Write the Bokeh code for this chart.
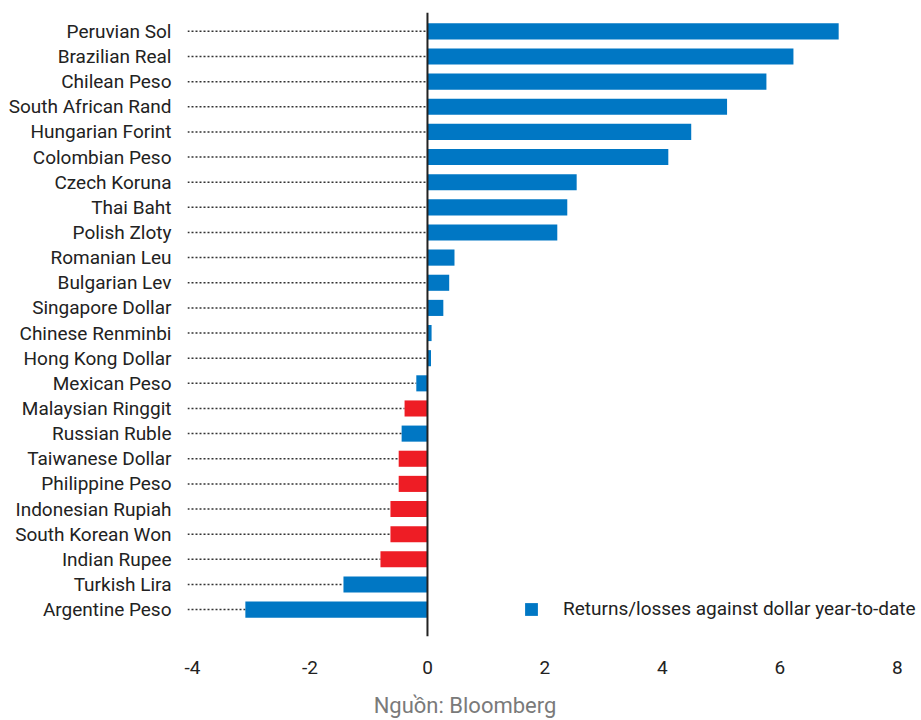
from bokeh.plotting import figure
from bokeh.models import Range1d, Span, Legend, LegendItem, ColumnDataSource, FixedTicker, Div
from bokeh.layouts import column
from bokeh.embed import file_html
from bokeh.resources import INLINE

currencies = ["Peruvian Sol", "Brazilian Real", "Chilean Peso", "South African Rand",
              "Hungarian Forint", "Colombian Peso", "Czech Koruna", "Thai Baht",
              "Polish Zloty", "Romanian Leu", "Bulgarian Lev", "Singapore Dollar",
              "Chinese Renminbi", "Hong Kong Dollar", "Mexican Peso", "Malaysian Ringgit",
              "Russian Ruble", "Taiwanese Dollar", "Philippine Peso", "Indonesian Rupiah",
              "South Korean Won", "Indian Rupee", "Turkish Lira", "Argentine Peso"]
returns = [7.0, 6.23, 5.77, 5.1, 4.49, 4.1, 2.54, 2.38, 2.21, 0.46, 0.37, 0.27,
           0.07, 0.06, -0.19, -0.39, -0.44, -0.49, -0.49, -0.63, -0.63, -0.8, -1.43, -3.1]
asian_highlight = ["Malaysian Ringgit", "Taiwanese Dollar", "Philippine Peso",
                   "Indonesian Rupiah", "South Korean Won", "Indian Rupee"]
x_ticks = [-4, -2, 0, 2, 4, 6, 8]
x_tick_labels = ["-4", "-2", "0", "2", "4", "6", "8"]
legend_label = "Returns/losses against dollar year-to-date"
source_note = "Nguồn: Bloomberg"

BLUE = "#0077c4"
RED = "#ee1d25"
FONT = "Roboto"
FS = "19px"

n = len(currencies)
ypos = list(range(n))
x_start = -4.085
x_end = 8.41

blue = dict(y=[], v=[])
red = dict(y=[], v=[])
for i, (c, v) in enumerate(zip(currencies, returns)):
    d = red if c in asian_highlight else blue
    d["y"].append(i)
    d["v"].append(v)

dots = dict(y=ypos, x0=[x_start] * n, x1=[min(0, v) for v in returns])

p = figure(width=921, height=688, output_backend="svg", toolbar_location=None,
           x_range=Range1d(x_start, x_end), y_range=Range1d(n - 1 + 1.07, -0.75),
           min_border_left=187, min_border_right=0, min_border_top=12, min_border_bottom=52)
p.outline_line_color = None
p.grid.visible = False
p.background_fill_color = "white"

p.segment(x0="x0", y0="y", x1="x1", y1="y", source=ColumnDataSource(dots),
          line_color="#333333", line_width=1.5, line_dash="2 2")

rb = p.hbar(y="y", right="v", left=0, height=0.64, source=ColumnDataSource(blue),
            fill_color=BLUE, line_color=None)
rr = p.hbar(y="y", right="v", left=0, height=0.64, source=ColumnDataSource(red),
            fill_color=RED, line_color=None)

p.add_layout(Span(location=0, dimension="height", line_color="#222222", line_width=2))

yaxis = p.yaxis[0]
yaxis.ticker = FixedTicker(ticks=ypos)
yaxis.major_label_overrides = {i: c for i, c in enumerate(currencies)}
yaxis.axis_line_color = None
yaxis.major_tick_line_color = None
yaxis.minor_tick_line_color = None
yaxis.major_tick_out = 0
yaxis.major_label_standoff = 16
yaxis.major_label_text_font = FONT
yaxis.major_label_text_font_size = FS
yaxis.major_label_text_color = "#222222"

xaxis = p.xaxis[0]
xaxis.ticker = FixedTicker(ticks=x_ticks)
xaxis.major_label_overrides = {t: s for t, s in zip(x_ticks, x_tick_labels)}
xaxis.axis_line_color = None
xaxis.major_tick_line_color = None
xaxis.minor_tick_line_color = None
xaxis.major_tick_out = 0
xaxis.major_label_standoff = 24
xaxis.major_label_text_font = FONT
xaxis.major_label_text_font_size = FS
xaxis.major_label_text_color = "#222222"

legend = Legend(items=[LegendItem(label=legend_label, renderers=[rb])],
                location=(336, 16), glyph_width=16, glyph_height=16, label_standoff=24,
                label_text_font=FONT, label_text_font_size=FS, label_text_color="#222222",
                background_fill_alpha=0, border_line_color=None, padding=2, margin=0)
p.add_layout(legend)

note = Div(text=source_note, width=921, height=32, margin=(0, 0, 0, 0),
           styles={"font-family": FONT, "font-size": "22px", "color": "#7a7a7a",
                   "line-height": "36px", "text-align": "center", "padding-left": "9px",
                   "box-sizing": "border-box", "width": "921px"})

layout = column(p, note, spacing=0)
open("out.html", "w").write(file_html(layout, INLINE))
